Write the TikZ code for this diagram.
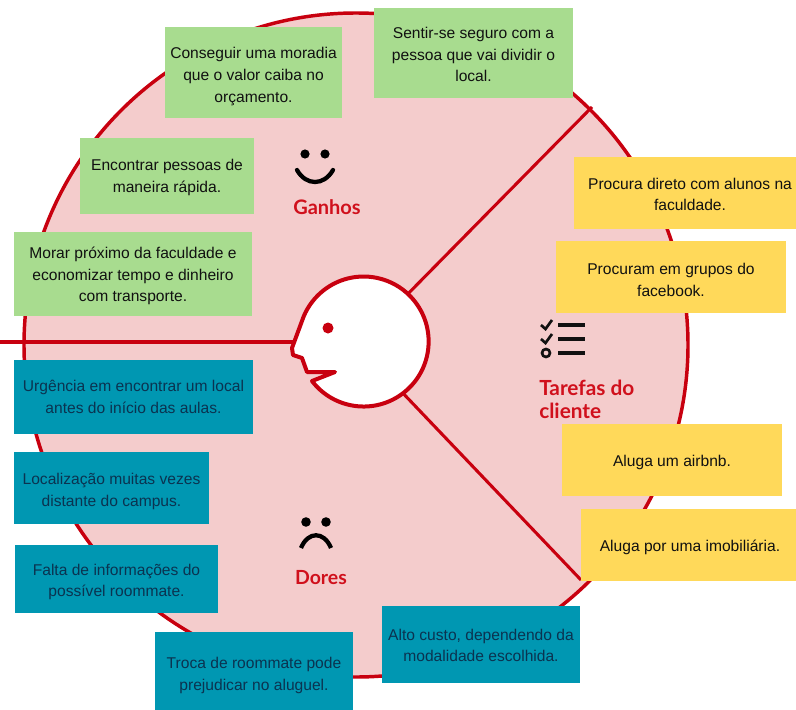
\documentclass[tikz,border=0pt]{standalone}
\usepackage{fontspec}
\setmainfont{Liberation Sans}
\newfontfamily\headfont{Lato}
\definecolor{rimred}{HTML}{C8000F}
\definecolor{pinkbg}{HTML}{F4CCCC}
\definecolor{greenbox}{HTML}{A8DC8F}
\definecolor{yellowbox}{HTML}{FFD95A}
\definecolor{bluebox}{HTML}{0097B2}
\definecolor{headred}{HTML}{D0101C}
\definecolor{bluetext}{HTML}{0B3350}
\definecolor{inktext}{HTML}{111111}
\tikzset{
  sz/.style 2 args={minimum width=#1*0.75pt,minimum height=#2*0.75pt},
  card/.style={inner sep=0pt,align=center,font=\fontsize{11.7}{16.2}\selectfont},
  cardfill/.style 2 args={yshift=-#2*0.75pt,preaction={fill=#1,transform canvas={yshift=#2*0.75pt}}},
  gain/.style={card,cardfill={greenbox}{#1},text=inktext},
  task/.style={card,cardfill={yellowbox}{#1},text=inktext},
  pain/.style={card,cardfill={bluebox}{#1},text=bluetext},
  heading/.style={inner sep=0pt,text=headred,font=\headfont\fontsize{15}{17}\selectfont\bfseries},
  rim/.style={draw=rimred,line width=2.6pt},
  spoke/.style={draw=rimred,line width=2.3pt},
  headring/.style={draw=rimred,line width=3pt},
  icon/.style={draw=black,line width=3.2pt,line cap=round},
  iconthin/.style={draw=inktext,line width=3pt}
}
\begin{document}
\begin{tikzpicture}[x=0.75pt,y=-0.75pt]
\useasboundingbox (0,0) rectangle (796,710);
\clip (0,0) rectangle (796,710);
\fill[white] (0,0) rectangle (796,710);
% big circle
\node[circle,rim,fill=pinkbg,inner sep=0pt,minimum size=664*0.75pt] (disc) at (356,345) {};
% head anchor
\node[circle,inner sep=0pt,minimum size=130*0.75pt] (head) at (363,342) {};
\coordinate (rimNE) at (592,107);
\coordinate (rimSE) at (581,580);
\coordinate (farW) at (0,342);
\coordinate (nose) at (295,342);
\draw[spoke] (head.47) -- (rimNE);
\draw[spoke] (head.-52) -- (rimSE);
\draw[spoke] (farW) -- (nose);
% head
\draw[headring,fill=white,line join=round] (312,381) arc[start angle=-217.4,end angle=-517.4,radius=65]
  -- (292,348) -- (293,355) -- (302,358) -- (307,372) -- (335,372) -- cycle;
\fill[rimred] (328,328) circle[radius=5.5];
% Smile
\fill (305,154) circle[radius=4.6];
\fill (325,154) circle[radius=4.6];
\draw[icon] (297,170) .. controls (306,186) and (324,186) .. (333,170);
% Frown
\fill (306,522) circle[radius=4.8];
\fill (326,522) circle[radius=4.8];
\draw[icon,line cap=butt] (301,548) .. controls (308,531) and (324,531) .. (331,548);
% Tasks
\draw[iconthin] (558,325) -- (585,325);
\draw[iconthin] (558,339) -- (585,339);
\draw[iconthin] (558,353) -- (585,353);
\draw[iconthin,line width=2pt] (541,325) -- (545.5,329) -- (552,320);
\draw[iconthin,line width=2pt] (541,339) -- (545.5,343) -- (552,334);
\draw[iconthin,line width=2pt] (546,353) circle[radius=4];
% Headings
\node[heading] (ganhos) at (327,207) {Ganhos};
\node[heading,font=\headfont\fontsize{14.6}{17}\selectfont\bfseries] (dores) at (321,578) {Dores};
\node[heading,align=left,anchor=west,font=\headfont\fontsize{15.6}{17.2}\selectfont\bfseries] (tarefas) at (539,399) {Tarefas do\\cliente};
% Gains
\node[gain=4,sz={177}{91}] (g1) at (253.5,72.5) {Conseguir uma moradia\\que o valor caiba no\\orçamento.};
\node[gain=1.5,sz={199}{90}] (g2) at (473.5,53) {Sentir-se seguro com a\\pessoa que vai dividir o\\local.};
\node[gain=1.5,sz={174}{76}] (g3) at (167,176) {Encontrar pessoas de\\maneira rápida.};
\node[gain=2,sz={238}{84}] (g4) at (133,274) {Morar próximo da faculdade e\\economizar tempo e dinheiro\\com transporte.};
% Tasks
\node[task=1.5,sz={232}{72}] (y1) at (690,193) {Procura direto com alunos na\\faculdade.};
\node[task=3,sz={230}{72}] (y2) at (671,277) {Procuram em grupos do\\facebook.};
\node[task=2,sz={220}{72}] (y3) at (672,460) {Aluga um airbnb.};
\node[task=2,sz={218}{72}] (y4) at (690,545) {Aluga por uma imobiliária.};
% Pains
\node[pain=0,sz={239}{74}] (b1) at (133.5,397) {Urgência em encontrar um local\\antes do início das aulas.};
\node[pain=3.5,sz={195}{72}] (b2) at (111.5,488) {Localização muitas vezes\\distante do campus.};
\node[pain=3,sz={203}{68}] (b3) at (116.5,579) {Falta de informações do\\possível roommate.};
\node[pain=1.5,sz={198}{84}] (b4) at (254,674) {Troca de roommate pode\\prejudicar no aluguel.};
\node[pain=1,sz={198}{77}] (b5) at (481,644.5) {Alto custo, dependendo da\\modalidade escolhida.};
\end{tikzpicture}
\end{document}
